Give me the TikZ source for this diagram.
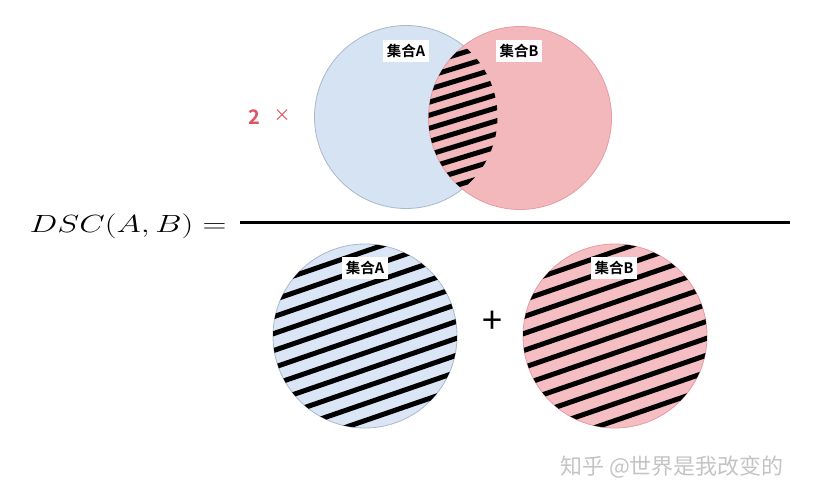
\documentclass[tikz,border=0pt]{standalone}
\usepackage{amsmath}
\usepackage{fontspec}
\newfontfamily\cjk{Noto Sans CJK SC}
\newfontfamily\cjkbold{Noto Sans CJK SC Bold}
\definecolor{setA}{HTML}{D5E3F3}
\definecolor{setAline}{HTML}{A9B8CB}
\definecolor{setB}{HTML}{F2B8BC}
\definecolor{setBline}{HTML}{E59CA3}
\definecolor{setAlow}{HTML}{DAE6F5}
\definecolor{setBlow}{HTML}{F4BEC2}
\definecolor{twored}{HTML}{E05462}
\definecolor{markgray}{HTML}{C4C4C4}
\tikzset{
	setcirc/.style={circle, minimum size=183pt, inner sep=0pt, line width=0.8pt},
	setlabel/.style={fill=white, inner sep=4pt, font=\cjkbold\fontsize{14.5}{14.5}\selectfont},
	hatch/.style={line width=5pt, black},
}
\begin{document}
\begin{tikzpicture}[x=1pt, y=-1pt]
	\useasboundingbox (0,0) rectangle (821,500);
	% numerator
	\node (A1) at (406,117) [setcirc, draw=setAline, fill=setA] {};
	\node (B1) at (520,118) [setcirc, draw=setBline, fill=setB] {};
	\begin{scope}
		\clip (406,117) circle (91.5);
		\clip (520,118) circle (91.5);
		\foreach \k in {-7,...,7}
			\draw[hatch, shift={(463,118)}, rotate=17] (-80,\k*12.5) -- (80,\k*12.5);
	\end{scope}
	\node (labA1) at (406,51) [setlabel] {集合A};
	\node (labB1) at (519,51) [setlabel] {集合B};
	\node (two) at (254,117) [font=\cjkbold\fontsize{20}{20}\selectfont, text=twored] {2};
	\node (times) at (282,116) [font=\cjk\fontsize{17}{17}\selectfont, text=twored] {×};
	% fraction
	\node (dsc) at (128,226) [font=\fontsize{38}{38}\selectfont] {\scalebox{1.33}[1]{$DSC(A,B) =$}};
	\coordinate (fracL) at (240,222);
	\coordinate (fracR) at (790,222);
	\draw[line width=3pt] (fracL) -- (fracR);
	% denominator
	\node (A2) at (365,336) [setcirc, minimum size=184pt, draw=setAline, fill=setAlow] {};
	\node (B2) at (615,336) [setcirc, minimum size=184pt, draw=setBline, fill=setBlow] {};
	\begin{scope}
		\clip (365,336) circle (92);
		\foreach \k in {-6,...,6}
			\draw[hatch, shift={(365,336)}, rotate=19] (-110,\k*16) -- (110,\k*16);
	\end{scope}
	\begin{scope}
		\clip (615,336) circle (92);
		\foreach \k in {-6,...,6}
			\draw[hatch, shift={(615,336)}, rotate=19] (-110,\k*16) -- (110,\k*16);
	\end{scope}
	\node (labA2) at (365,268) [setlabel] {集合A};
	\node (labB2) at (614,268) [setlabel] {集合B};
	\node (plus) at (492,322) [font=\cjk\fontsize{36}{36}\selectfont] {+};
	\node (mark) at (672,467) [font=\cjk\fontsize{22}{22}\selectfont, text=markgray] {知乎 @世界是我改变的};
\end{tikzpicture}
\end{document}
